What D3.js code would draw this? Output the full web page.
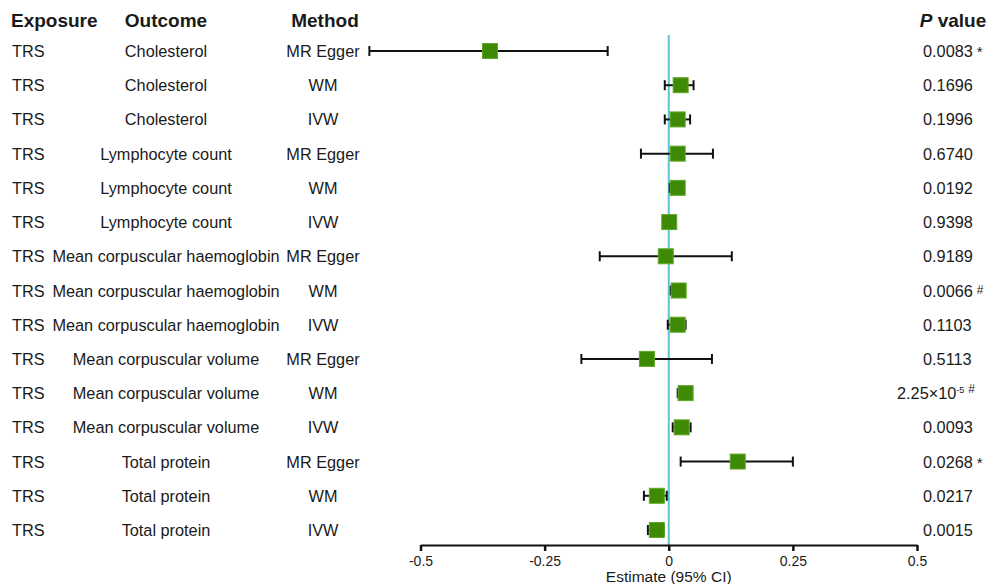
<!DOCTYPE html>
<meta charset="utf-8">
<style>
body { margin: 0; background: #fff; }
text { font-family: "Liberation Sans", Arial, sans-serif; fill: #1a1a1a; }
.head { font-weight: bold; font-size: 19px; }
.lbl { font-size: 16.3px; }
</style>
<svg width="1001" height="584"></svg>
<script src="https://d3js.org/d3.v7.min.js"></script>
<script>
// forest plot data
var exposure = ["TRS","TRS","TRS","TRS","TRS","TRS","TRS","TRS","TRS","TRS","TRS","TRS","TRS","TRS","TRS"];
var outcome = ["Cholesterol","Cholesterol","Cholesterol",
  "Lymphocyte count","Lymphocyte count","Lymphocyte count",
  "Mean corpuscular haemoglobin","Mean corpuscular haemoglobin","Mean corpuscular haemoglobin",
  "Mean corpuscular volume","Mean corpuscular volume","Mean corpuscular volume",
  "Total protein","Total protein","Total protein"];
var method = ["MR Egger","WM","IVW","MR Egger","WM","IVW","MR Egger","WM","IVW","MR Egger","WM","IVW","MR Egger","WM","IVW"];
var estimate = [-0.36, 0.024, 0.018, 0.018, 0.018, 0.001, -0.006, 0.02, 0.018, -0.044, 0.034, 0.026, 0.139, -0.024, -0.024];
var lower = [-0.603, -0.008, -0.008, -0.056, 0.002, 0.0, -0.139, 0.004, -0.002, -0.176, 0.018, 0.008, 0.024, -0.05, -0.042];
var upper = [-0.123, 0.05, 0.043, 0.089, 0.02, 0.002, 0.127, 0.022, 0.034, 0.087, 0.036, 0.044, 0.25, -0.004, -0.01];
var pvalue = ["0.0083","0.1696","0.1996","0.6740","0.0192","0.9398","0.9189","0.0066","0.1103","0.5113","2.25×10","0.0093","0.0268","0.0217","0.0015"];
var pexp = ["","","","","","","","","","","-5","","","",""];
var mark = ["*","","","","","","","#","","","#","","*","",""];
var ticks = [-0.5, -0.25, 0, 0.25, 0.5];

var svg = d3.select("svg");

var x = d3.scaleLinear().domain([-0.5, 0.5]).range([420.5, 917]);
var y = d3.scalePoint().domain(d3.range(method.length)).range([51, 530]);

var rows = d3.range(method.length);

// column headers
svg.append("text").attr("class", "head").attr("x", 11).attr("y", 27).text("Exposure");
svg.append("text").attr("class", "head").attr("x", 166).attr("y", 27).attr("text-anchor", "middle").text("Outcome");
svg.append("text").attr("class", "head").attr("x", 325).attr("y", 27).attr("text-anchor", "middle").text("Method");
var ph = svg.append("text").attr("class", "head").attr("x", 953).attr("y", 27).attr("text-anchor", "middle");
ph.append("tspan").style("font-style", "italic").text("P");
ph.append("tspan").text(" value");

// text columns
var g = svg.append("g");
g.selectAll(".exp").data(rows).enter().append("text")
    .attr("class", "lbl").attr("x", 12).attr("y", d => y(d) + 6)
    .text(d => exposure[d]);
g.selectAll(".out").data(rows).enter().append("text")
    .attr("class", "lbl").attr("x", 166).attr("y", d => y(d) + 6).attr("text-anchor", "middle")
    .text(d => outcome[d]);
g.selectAll(".met").data(rows).enter().append("text")
    .attr("class", "lbl").attr("x", 323).attr("y", d => y(d) + 6).attr("text-anchor", "middle")
    .text(d => method[d]);

var pt = g.selectAll(".pv").data(rows).enter().append("text")
    .attr("class", "lbl").attr("y", d => y(d) + 6)
    .attr("x", d => pexp[d] ? 897 : 923);
pt.append("tspan").text(d => pvalue[d]);
pt.append("tspan").style("font-size", "9px").attr("dy", d => pexp[d] ? -6 : 0).text(d => pexp[d]);
pt.append("tspan").style("font-size", d => mark[d] == "#" ? "12px" : "15px")
    .attr("dy", d => pexp[d] ? 0 : (mark[d] == "#" ? -3 : 0))
    .attr("dx", 4).text(d => mark[d]);

// zero reference line
svg.append("line")
    .attr("x1", x(0)).attr("x2", x(0)).attr("y1", 35).attr("y2", 545)
    .attr("stroke", "#5cc3d0").attr("stroke-width", 2);

// confidence intervals
var ci = svg.append("g").attr("stroke", "#111").attr("stroke-width", 2);
ci.selectAll(".ci").data(rows).enter().append("line")
    .attr("x1", d => x(lower[d])).attr("x2", d => x(upper[d]))
    .attr("y1", d => y(d)).attr("y2", d => y(d));
ci.selectAll(".capl").data(rows).enter().append("line")
    .attr("x1", d => x(lower[d])).attr("x2", d => x(lower[d]))
    .attr("y1", d => y(d) - 5).attr("y2", d => y(d) + 5);
ci.selectAll(".capu").data(rows).enter().append("line")
    .attr("x1", d => x(upper[d])).attr("x2", d => x(upper[d]))
    .attr("y1", d => y(d) - 5).attr("y2", d => y(d) + 5);

// point estimates
svg.append("g").selectAll("rect").data(rows).enter().append("rect")
    .attr("x", d => x(estimate[d]) - 7.5).attr("y", d => y(d) - 7.5)
    .attr("width", 15).attr("height", 15)
    .attr("fill", "#3f8a05").attr("stroke", "#62a82a").attr("stroke-width", 1);

// x axis
var ax = svg.append("g").attr("transform", "translate(0,545)")
    .call(d3.axisBottom(x).tickValues(ticks).tickFormat(d => d === 0 ? "0" : String(d)).tickSize(6).tickSizeOuter(0));
ax.select(".domain").attr("stroke", "#111").attr("stroke-width", 2);
ax.selectAll(".tick line").attr("stroke", "#111").attr("stroke-width", 2.5);
ax.selectAll(".tick text").attr("dy", "0.85em").attr("fill", "#1a1a1a")
    .style("font-family", "Liberation Sans, Arial, sans-serif").style("font-size", "14px");

svg.append("text").attr("x", x(0)).attr("y", 582).attr("text-anchor", "middle")
    .style("font-size", "15.5px").text("Estimate (95% CI)");
</script>
